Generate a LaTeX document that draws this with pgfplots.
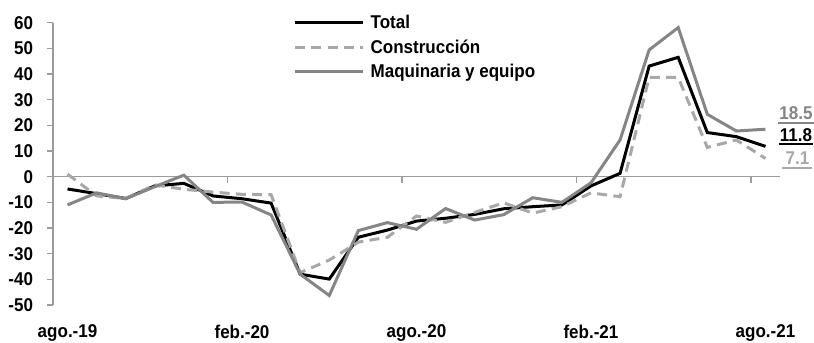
\documentclass[border=0pt]{standalone}
\usepackage{fontspec}
\setmainfont{Liberation Sans}[FakeStretch=0.92]
\usepackage{pgfplots}
\usepackage{pgfplotstable}
\pgfplotsset{compat=1.18}
\definecolor{cons}{HTML}{A8A8A8}
\definecolor{maq}{HTML}{858585}
\definecolor{axg}{HTML}{9C9C9C}

\pgfplotstableread{
i total cons maq
0 -4.8 1.0 -11.0
1 -6.6 -7.5 -6.3
2 -8.5 -8.5 -8.6
3 -3.6 -3.2 -3.9
4 -2.6 -4.9 0.6
5 -7.5 -6.0 -10.0
6 -8.6 -6.9 -9.9
7 -10.3 -7.0 -14.9
8 -38.0 -37.4 -38.0
9 -39.9 -32.5 -46.3
10 -23.6 -25.5 -21.0
11 -20.8 -23.6 -17.9
12 -17.3 -15.3 -20.5
13 -16.2 -17.8 -12.4
14 -14.7 -13.9 -16.9
15 -12.5 -10.2 -14.8
16 -11.7 -14.2 -8.2
17 -11.0 -11.7 -10.0
18 -3.6 -6.3 -2.4
19 1.3 -7.8 14.3
20 43.1 38.7 49.4
21 46.5 38.7 58.1
22 17.2 11.4 24.3
23 15.6 14.3 17.8
24 11.8 7.1 18.5
}\datatable

\newcommand\lbfont{\fontsize{18.5bp}{22bp}\selectfont\bfseries}

\begin{document}
\begin{tikzpicture}
\begin{axis}[
  scale only axis, width=727bp, height=282.3bp,
  xmin=-0.5, xmax=24.5, ymin=-50, ymax=60,
  axis y line*=left, axis x line*=bottom,
  x axis line style={draw=none},
  y axis line style={draw=axg, line width=1.3bp},
  xtick={0,6,12,18,24},
  xticklabels={ago.-19,feb.-20,ago.-20,feb.-21,ago.-21},
  xtick style={draw=none},
  ytick={-50,-40,...,60},
  ytick style={draw=axg, line width=1.3bp},
  tick align=outside, major tick length=5.5bp,
  tick label style={font=\lbfont},
  /pgf/number format/assume math mode=true,
  xticklabel style={yshift=-11bp},
  yticklabel style={xshift=-11bp},
  clip=false,
  legend cell align=left,
  legend style={at={(rel axis cs:0.3307,1.0429)}, anchor=north west,
    draw=none, fill=none, inner sep=0pt, row sep=0pt,
    font=\lbfont,
    nodes={inner xsep=3bp, inner ysep=0bp, text height=18.1bp, text depth=6.1bp},
    /tikz/every odd column/.append style={column sep=3bp}},
  legend image code/.code={\draw[#1] (0bp,0bp) -- (68bp,0bp);},
]
\draw[axg, line width=1.3bp] (axis cs:-0.5,0) -- (axis cs:24.5,0);
\draw[axg, line width=1.3bp] (axis cs:5.5,0) -- ([yshift=-6bp]axis cs:5.5,0);
\draw[axg, line width=1.3bp] (axis cs:11.5,0) -- ([yshift=-6bp]axis cs:11.5,0);
\draw[axg, line width=1.3bp] (axis cs:17.5,0) -- ([yshift=-6bp]axis cs:17.5,0);
\draw[axg, line width=1.3bp] (axis cs:23.5,0) -- ([yshift=-6bp]axis cs:23.5,0);

\addplot[black, line width=3bp, no marks] table[x=i, y=total] {\datatable};
\addplot[cons, line width=3bp, dash pattern=on 10bp off 6.3bp, no marks] table[x=i, y=cons] {\datatable};
\addplot[maq, line width=3bp, no marks] table[x=i, y=maq] {\datatable};
\legend{Total, Construcción, Maquinaria y equipo}

\node[font=\lbfont, text=maq, anchor=base, inner xsep=1bp] (l1) at (axis cs:25.05,22.1) {18.5};
\draw[maq, line width=1.5bp] ([yshift=-3bp]l1.base west) -- ([yshift=-3bp]l1.base east);
\node[font=\lbfont, text=black, anchor=base, inner xsep=1bp] (l2) at (axis cs:25.05,13.9) {11.8};
\draw[black, line width=1.5bp] ([yshift=-3bp]l2.base west) -- ([yshift=-3bp]l2.base east);
\node[font=\lbfont, text=cons, anchor=base, inner xsep=3bp] (l3) at (axis cs:25.1,4.56) {7.1};
\draw[cons, line width=1.5bp] ([yshift=-3bp]l3.base west) -- ([yshift=-3bp]l3.base east);

\coordinate (SW) at (rel axis cs:0,0);
\coordinate (NE) at (rel axis cs:1,1);
\end{axis}
\pgfresetboundingbox
\path[use as bounding box] ([xshift=-53bp,yshift=-38bp]SW) rectangle ([xshift=34bp,yshift=22.7bp]NE);
\end{tikzpicture}
\end{document}
